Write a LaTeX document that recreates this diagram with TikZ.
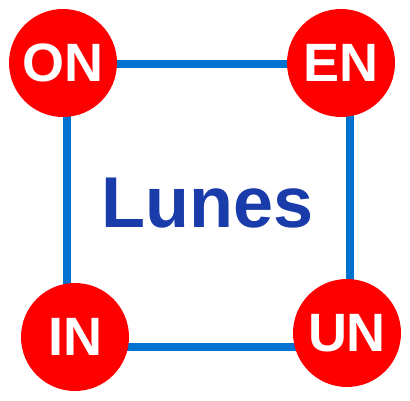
\documentclass[tikz,border=0pt]{standalone}
\usepackage{fontspec}
\setmainfont{Liberation Sans}
\definecolor{edgeblue}{RGB}{0,114,208}
\definecolor{titleblue}{RGB}{26,60,170}
\definecolor{dotred}{RGB}{255,0,0}
\begin{document}
\begin{tikzpicture}[x=1pt,y=-1pt,
  corner/.style={circle,fill=dotred,minimum size=108pt,inner sep=0pt,text=white,font=\fontsize{54}{54}\selectfont\bfseries},
  edge/.style={draw=edgeblue,line width=8pt}]
\useasboundingbox (0,0) rectangle (410,401);
\coordinate (a) at (67,64);
\coordinate (b) at (350,64);
\coordinate (c) at (350,347);
\coordinate (d) at (67,347);
\draw[edge,line join=miter] (a) -- (b) -- (c) -- (d) -- cycle;
\node[corner] (on) at (63,63) {ON};
\node[corner] (en) at (341,63) {EN};
\node[corner] (in) at (75,337) {IN};
\node[corner] (un) at (347,333) {UN};
\node[text=titleblue,font=\fontsize{72}{72}\selectfont\bfseries,anchor=base] (t) at (208,227) {Lunes};
\end{tikzpicture}
\end{document}
